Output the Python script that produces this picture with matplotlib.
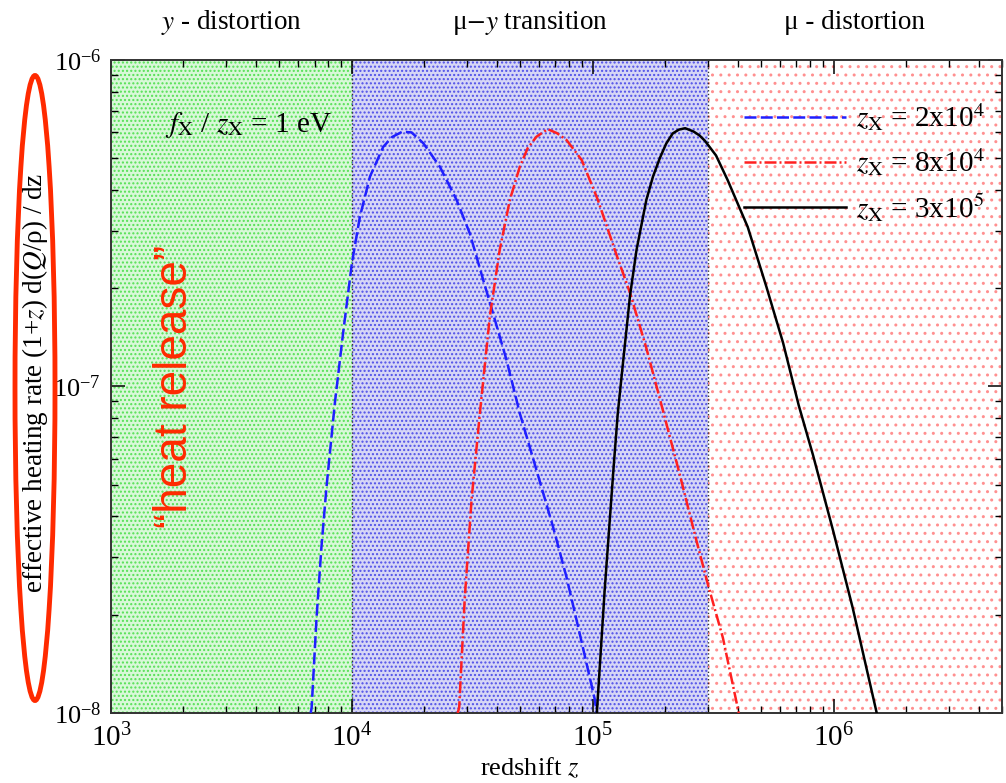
import numpy as np
import matplotlib
matplotlib.use("Agg")
import matplotlib.pyplot as plt
import matplotlib.transforms as mtransforms
from matplotlib.patches import Ellipse

# curves: redshift z and effective heating rate
blue_z = [6.75e3, 6.81e3, 7.14e3, 7.48e3, 7.85e3, 8.50e3, 9.20e3, 1.0e4, 1.08e4, 1.19e4,
          1.35e4, 1.47e4, 1.62e4, 1.77e4, 1.98e4, 2.32e4, 2.72e4, 3.09e4, 3.51e4, 3.86e4,
          4.38e4, 4.98e4, 5.84e4, 6.84e4, 7.78e4, 8.83e4, 1.02e5, 1.04e5]
blue_q = [1.0e-8, 1.04e-8, 1.97e-8, 3.23e-8, 4.93e-8, 8.89e-8, 1.46e-7, 2.38e-7, 3.31e-7, 4.40e-7,
          5.42e-7, 5.81e-7, 6.03e-7, 6.00e-7, 5.56e-7, 4.71e-7, 3.73e-7, 2.94e-7, 2.12e-7, 1.67e-7,
          1.21e-7, 8.28e-8, 5.55e-8, 3.72e-8, 2.61e-8, 1.75e-8, 1.10e-8, 1.0e-8]

red_z = [2.75e4, 2.79e4, 2.94e4, 3.14e4, 3.40e4, 3.74e4, 4.11e4, 4.53e4, 4.98e4, 5.37e4,
         5.84e4, 6.50e4, 7.10e4, 7.78e4, 9.0e4, 1.05e5, 1.26e5, 1.43e5, 1.67e5, 1.93e5,
         2.30e5, 2.69e5, 3.01e5, 3.47e5, 4.04e5]
red_q = [1.0e-8, 1.04e-8, 2.22e-8, 4.49e-8, 8.28e-8, 1.64e-7, 2.62e-7, 3.73e-7, 4.71e-7, 5.37e-7,
         5.82e-7, 6.14e-7, 5.97e-7, 5.69e-7, 4.94e-7, 3.73e-7, 2.51e-7, 1.93e-7, 1.31e-7, 8.77e-8,
         5.36e-8, 3.39e-8, 2.47e-8, 1.70e-8, 1.0e-8]

black_z = [1.04e5, 1.074e5, 1.121e5, 1.177e5, 1.223e5, 1.27e5, 1.34e5, 1.43e5, 1.52e5, 1.67e5,
           1.78e5, 1.90e5, 2.02e5, 2.15e5, 2.28e5, 2.42e5, 2.62e5, 2.77e5, 2.92e5, 3.25e5,
           3.63e5, 4.40e5, 5.26e5, 6.17e5, 7.16e5, 8.21e5, 9.94e5, 1.20e6, 1.51e6]
black_q = [1.0e-8, 1.45e-8, 2.38e-8, 3.90e-8, 5.75e-8, 8.24e-8, 1.21e-7, 1.91e-7, 2.62e-7, 3.73e-7,
           4.40e-7, 5.01e-7, 5.55e-7, 5.96e-7, 6.12e-7, 6.18e-7, 6.04e-7, 5.88e-7, 5.66e-7, 5.10e-7,
           4.29e-7, 3.08e-7, 2.02e-7, 1.36e-7, 8.77e-8, 6.17e-8, 3.63e-8, 2.10e-8, 1.0e-8]

labels = [r"$z_{\rm X}$ = 2x10$^{4}$", r"$z_{\rm X}$ = 8x10$^{4}$", r"$z_{\rm X}$ = 3x10$^{5}$"]

# regions: y-distortion, mu-y transition, mu-distortion
region_edges = [1e3, 1e4, 3e5, 5e6]
region_names = [r"$y$ - distortion", r"μ$-$$y$ transition", r"μ - distortion"]

plt.rcParams['font.family'] = ['Liberation Serif', 'DejaVu Serif']
plt.rcParams['mathtext.fontset'] = 'stix'
plt.rcParams['hatch.linewidth'] = 1.0

fig = plt.figure(figsize=(10.06, 7.83), dpi=100)
ax = fig.add_axes([0.1103, 0.0894, 0.8857, 0.8340])

ax.set_xscale('log')
ax.set_yscale('log')
ax.set_xlim(1e3, 5e6)
ax.set_ylim(1e-8, 1e-6)

# dotted background shading
ax.axvspan(region_edges[0], region_edges[1], facecolor='#d8f8d8', edgecolor='#55e055',
           hatch='....', linewidth=0, zorder=0)
ax.axvspan(region_edges[1], region_edges[2], facecolor='#d6d6f6', edgecolor='#5050e8',
           hatch='....', linewidth=0, zorder=0)
ax.axvspan(region_edges[2], region_edges[3], facecolor='white', edgecolor='#ff9090',
           hatch='..', linewidth=0, zorder=0)
for e in region_edges[1:3]:
    ax.axvline(e, color='#333333', linestyle=':', linewidth=1.0, zorder=1)

ax.plot(blue_z, blue_q, color='#1f1fff', linewidth=1.8, dashes=(4.8, 1.7), label=labels[0], zorder=3)
ax.plot(red_z, red_q, color='#ff2020', linewidth=1.8, dashes=(4.8, 1.2, 0.8, 1.2), label=labels[1], zorder=3)
ax.plot(black_z, black_q, color='black', linewidth=1.8, label=labels[2], zorder=3)

leg = ax.legend(loc='upper right', bbox_to_anchor=(1.01, 0.976), frameon=False, fontsize=21,
                handlelength=3.5, handletextpad=0.35, labelspacing=0.45)

ax.tick_params(which='both', direction='in', top=True, right=True)
ax.tick_params(which='major', length=10, width=1.1)
ax.tick_params(which='minor', length=5, width=1.0)
ax.tick_params(axis='x', which='major', labelsize=21, pad=8)
ax.tick_params(axis='y', which='major', labelsize=19, pad=7)
for s in ax.spines.values():
    s.set_linewidth(1.4)
    s.set_color('#333333')

ax.set_xlabel(r"redshift $z$", fontsize=19)
ax.xaxis.set_label_coords(0.47, -0.065)
ax.set_ylabel(r"effective heating rate (1+$z$) d($Q$/ρ) / dz", fontsize=19.5)
ax.yaxis.set_label_coords(-0.068, 0.505)

# region labels above the axes
trans = mtransforms.blended_transform_factory(ax.transData, ax.transAxes)
for i, name in enumerate(region_names):
    xc = np.sqrt(region_edges[i] * region_edges[i + 1])
    ax.text(xc, 1.057, name, transform=trans, ha='center', va='center', fontsize=19.5)

ax.text(0.061, 0.90, r"$f_{\rm X}$ / $z_{\rm X}$ = 1 eV", transform=ax.transAxes,
        ha='left', va='center', fontsize=21)

ax.text(0.072, 0.50, "\u201cheat release\u201d", transform=ax.transAxes, rotation=90,
        ha='center', va='center', fontsize=33, color='#ff2a00', family='Liberation Sans')

ell = Ellipse((35 / 1006, 1 - 388 / 783), 40 / 1006, 625 / 783, transform=fig.transFigure,
              fill=False, edgecolor='#ff2a00', linewidth=3.5)
fig.patches.append(ell)

fig.savefig('out.png', dpi=100)
